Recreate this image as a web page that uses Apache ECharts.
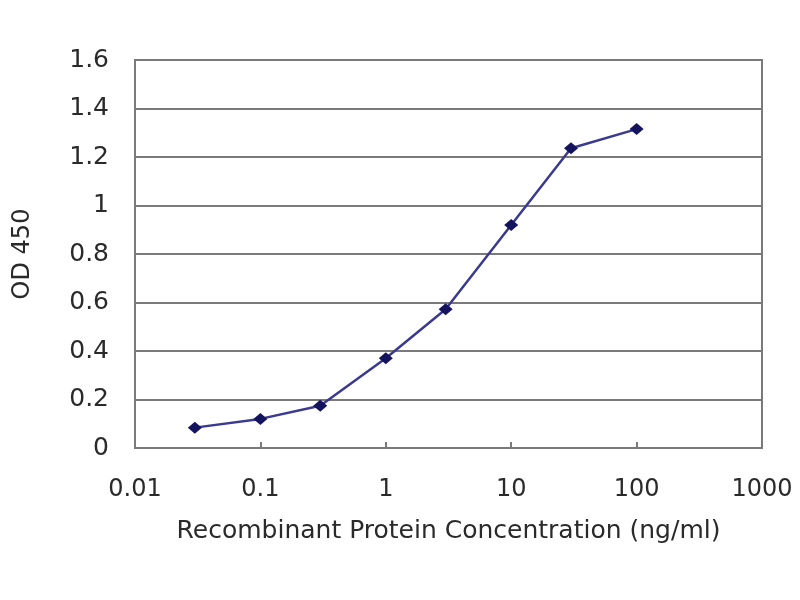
<!DOCTYPE html>
<html>
<head>
<meta charset="utf-8">
<script src="https://cdn.jsdelivr.net/npm/echarts@6/dist/echarts.min.js"></script>
<style>html,body{margin:0;padding:0;background:#fff;}#chart{width:800px;height:600px;}</style>
</head>
<body>
<div id="chart"></div>
<script>
const concentrations = [0.03, 0.1, 0.3, 1, 3, 10, 30, 100];
const odValues = [0.084, 0.12, 0.174, 0.37, 0.572, 0.92, 1.236, 1.315];
const xAxisTitle = 'Recombinant Protein Concentration (ng/ml)';
const yAxisTitle = 'OD 450';

const chart = echarts.init(document.getElementById('chart'));
const font = 'DejaVu Sans';
chart.setOption({
  backgroundColor: '#ffffff',
  animation: false,
  grid: { left: 135, right: 38, top: 60, bottom: 152, show: true, borderColor: '#7a7a7a', borderWidth: 2, backgroundColor: 'transparent' },
  xAxis: {
    type: 'log', logBase: 10, min: 0.01, max: 1000,
    name: xAxisTitle, nameLocation: 'middle', nameGap: 71,
    nameTextStyle: { fontFamily: font, fontSize: 25, color: '#2a2a2a' },
    axisLine: { show: true, lineStyle: { color: '#7a7a7a', width: 2 } },
    axisTick: { show: true, inside: true, length: 6, lineStyle: { color: '#7a7a7a', width: 2 } },
    axisLabel: { fontFamily: font, fontSize: 24, color: '#2a2a2a', margin: 30,
      formatter: v => String(Number(v.toPrecision(6))) },
    splitLine: { show: false }, minorTick: { show: false }
  },
  yAxis: {
    type: 'value', min: 0, max: 1.6, interval: 0.2,
    name: yAxisTitle, nameLocation: 'middle', nameGap: 100, nameRotate: 90,
    nameTextStyle: { fontFamily: font, fontSize: 24, color: '#2a2a2a' },
    axisLine: { show: true, lineStyle: { color: '#7a7a7a', width: 2 } },
    axisTick: { show: false },
    axisLabel: { fontFamily: font, fontSize: 25, color: '#2a2a2a', margin: 26,
      formatter: v => String(Number(v.toFixed(2))) },
    splitLine: { show: true, lineStyle: { color: '#7a7a7a', width: 2 } }
  },
  series: [{
    type: 'line',
    data: concentrations.map((c, i) => [c, odValues[i]]),
    symbol: 'diamond', symbolSize: [14, 12],
    lineStyle: { color: '#3a3a90', width: 2.5 },
    itemStyle: { color: '#14145e' }
  }]
});
</script>
</body>
</html>
